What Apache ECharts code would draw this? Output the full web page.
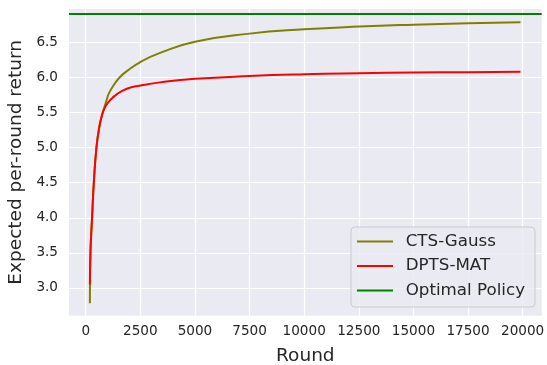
<!DOCTYPE html>
<html>
<head>
<meta charset="utf-8">
<script src="https://cdn.jsdelivr.net/npm/echarts@6/dist/echarts.min.js"></script>
<style>html,body{margin:0;padding:0;background:#fff;}#c{width:547px;height:365px;}</style>
</head>
<body>
<div id="c"></div>
<script>
const xTicks = [0, 2500, 5000, 7500, 10000, 12500, 15000, 17500, 20000];
const yTicks = [3.0, 3.5, 4.0, 4.5, 5.0, 5.5, 6.0, 6.5];
const roundsCTS = [190, 215, 290, 370, 490, 620, 780, 960, 1055, 1300, 1550, 1880, 2500, 3400, 5000, 7500, 10000, 12500, 15000, 17500, 19900];
const ctsGauss  = [2.78, 3.5, 4.0, 4.5, 5.0, 5.29, 5.5, 5.68, 5.77, 5.90, 6.0, 6.09, 6.22, 6.35, 6.51, 6.625, 6.686, 6.725, 6.752, 6.772, 6.786];
const roundsDPTS = [190, 215, 290, 370, 490, 620, 780, 950, 1130, 1420, 1880, 2500, 3400, 5000, 7500, 10000, 12500, 15000, 17500, 19900];
const dptsMat    = [3.05, 3.5, 4.0, 4.5, 5.0, 5.29, 5.5, 5.61, 5.68, 5.76, 5.84, 5.885, 5.93, 5.98, 6.02, 6.045, 6.06, 6.07, 6.075, 6.08];
const optimalValue = 6.91;

const zip = (xs, ys) => xs.map((x, i) => [x, ys[i]]);
const font = 'DejaVu Sans';
const chart = echarts.init(document.getElementById('c'), null, {renderer: 'canvas'});
chart.setOption({
  animation: false,
  backgroundColor: '#ffffff',
  grid: {left: 69, right: 5.3, top: 9, bottom: 49.3, show: true, backgroundColor: '#EAEAF2', borderWidth: 0,
    containLabel: false, outerBoundsMode: 'none'},
  xAxis: {
    type: 'value', min: -766, max: 20872,
    name: 'Round', nameLocation: 'middle', nameGap: 31,
    nameTextStyle: {fontFamily: font, fontSize: 18.5, color: '#262626'},
    axisLine: {show: false}, axisTick: {show: false, customValues: xTicks},
    axisLabel: {customValues: xTicks, fontFamily: font, fontSize: 13.6, color: '#262626', margin: 9,
      formatter: v => String(v)},
    splitLine: {show: true, lineStyle: {color: '#ffffff', width: 1.2}}
  },
  yAxis: {
    type: 'value', min: 2.604, max: 6.976,
    name: 'Expected per-round return', nameLocation: 'middle', nameGap: 37,
    nameTextStyle: {fontFamily: font, fontSize: 18.5, color: '#262626'},
    axisLine: {show: false}, axisTick: {show: false, customValues: yTicks},
    axisLabel: {customValues: yTicks, fontFamily: font, fontSize: 13.6, color: '#262626', margin: 11,
      formatter: v => v.toFixed(1)},
    splitLine: {show: true, lineStyle: {color: '#ffffff', width: 1.2}}
  },
  legend: {
    left: 351, top: 227, width: 160,
    orient: 'vertical',
    backgroundColor: 'rgba(234,234,242,0.8)', borderColor: '#cccccc', borderWidth: 1, borderRadius: 4,
    padding: [6, 10, 8, 6],
    itemWidth: 36, itemHeight: 2, itemGap: 7.5, icon: 'rect',
    textStyle: {fontFamily: font, fontSize: 16.7, color: '#262626', lineHeight: 17, padding: [0, 0, 0, 7.7]},
    data: ['CTS-Gauss', 'DPTS-MAT', 'Optimal Policy']
  },
  series: [
    {name: 'Optimal Policy', type: 'line', data: [], itemStyle: {color: '#008000'}, lineStyle: {color: '#008000', width: 2},
      markLine: {silent: true, symbol: ['none', 'none'], label: {show: false}, lineStyle: {color: '#008000', width: 2.2, type: 'solid'},
        data: [{yAxis: optimalValue}]}},
    {name: 'CTS-Gauss', type: 'line', data: zip(roundsCTS, ctsGauss), showSymbol: false, smooth: 0.5,
      itemStyle: {color: '#808000'}, lineStyle: {color: '#808000', width: 2}},
    {name: 'DPTS-MAT', type: 'line', data: zip(roundsDPTS, dptsMat), showSymbol: false, smooth: 0.5,
      itemStyle: {color: '#ff0000'}, lineStyle: {color: '#ff0000', width: 2}}
  ]
});
</script>
</body>
</html>
